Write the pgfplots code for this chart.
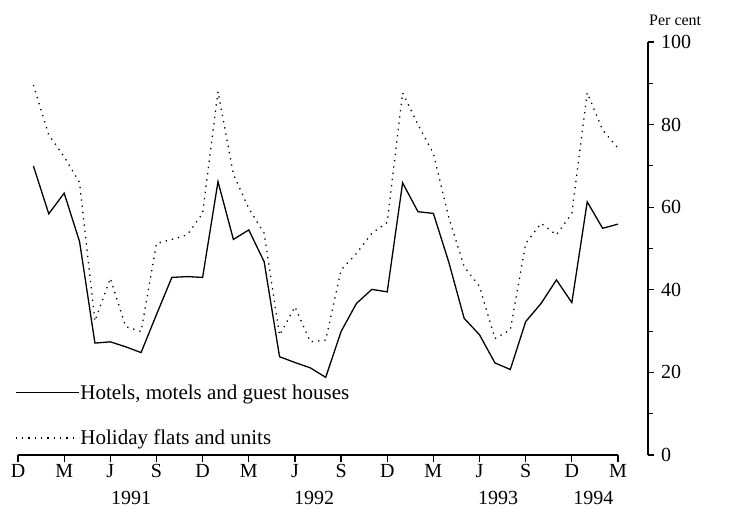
\documentclass[border=0pt]{standalone}
\usepackage{fontspec}
\setmainfont{Liberation Serif}
\usepackage{pgfplots}
\pgfplotsset{compat=1.18}
\begin{document}
\begin{tikzpicture}[font=\fontsize{20}{24}\selectfont]
\useasboundingbox (-18pt,-57pt) rectangle (713pt,455pt);
\begin{axis}[
  at={(0pt,0pt)}, anchor=south west,
  scale only axis, width=600pt, height=413pt,
  xmin=0, xmax=39, ymin=0, ymax=100,
  axis x line*=bottom, axis y line=none,
  xtick={0,3,...,39},
  xticklabels={D,M,J,S,D,M,J,S,D,M,J,S,D,M},
  tick align=outside, major tick length=7pt,
  x axis line style={line width=1.2pt},
  xtick style={line width=1.2pt, black},
  xticklabel style={inner sep=1pt, yshift=-1pt},
  clip=false,
  legend style={at={(axis description cs:-0.005,0.096)}, anchor=west, draw=none, fill=none,
    inner sep=0pt, row sep=27pt, font=\fontsize{21}{24}\selectfont,
    nodes={inner sep=1pt}},
  legend cell align=left,
  legend image code/.code={\draw[#1] (0pt,0pt) -- (63pt,0pt);},
]
\addplot[black, line width=1.3pt] coordinates {
(1,70) (2,58.4) (3,63.4) (4,51.7) (5,27.1) (6,27.4) (7,26.2) (8,24.8) (9,34) (10,43)
(11,43.2) (12,43) (13,66.2) (14,52.2) (15,54.5) (16,46.8) (17,23.8) (18,22.4) (19,21.1) (20,18.8)
(21,29.9) (22,36.7) (23,40.1) (24,39.5) (25,65.9) (26,58.9) (27,58.5) (28,46.7) (29,33.1) (30,29.1)
(31,22.3) (32,20.7) (33,32.3) (34,36.7) (35,42.4) (36,36.9) (37,61.3) (38,54.9) (39,55.9)
};
\addlegendentry{Hotels, motels and guest houses}
\addplot[black, line width=1.3pt, dash pattern=on 1.3pt off 5pt] coordinates {
(1,89.6) (2,77.5) (3,72.2) (4,66) (5,32.4) (6,42.8) (7,31.1) (8,29.9) (9,51.2) (10,52.2)
(11,53.3) (12,58.5) (13,88) (14,68) (15,59.7) (16,53.7) (17,29) (18,35.9) (19,27.4) (20,27.8)
(21,44.8) (22,48.8) (23,53.7) (24,56.3) (25,87.7) (26,80) (27,73) (28,57.5) (29,45.6) (30,40.8)
(31,28.2) (32,30.3) (33,51.2) (34,56.1) (35,53.3) (36,58.5) (37,87.7) (38,78.7) (39,74.3)
};
\addlegendentry{Holiday flats and units}
\node[anchor=base] at (axis cs:7.35,0) [yshift=-49pt] {1991};
\node[anchor=base] at (axis cs:19.25,0) [yshift=-49pt] {1992};
\node[anchor=base] at (axis cs:31.2,0) [yshift=-49pt] {1993};
\node[anchor=base] at (axis cs:37.4,0) [yshift=-49pt] {1994};
\end{axis}
\begin{axis}[
  at={(629pt,0pt)}, anchor=south west,
  scale only axis, width=1pt, height=413pt,
  xmin=0, xmax=1, ymin=0, ymax=100,
  axis x line=none, axis y line*=right,
  ytick={0,20,...,100}, minor ytick={10,30,...,90},
  tick align=outside, major tick length=6pt, minor tick length=5pt,
  y axis line style={line width=1.2pt},
  ytick style={line width=1.2pt, black},
  minor tick style={line width=1pt, black},
  yticklabel style={inner sep=1pt, xshift=6pt},
  /pgf/number format/assume math mode=true,
  clip=false,
]
\node[anchor=base west, font=\fontsize{16}{18}\selectfont, inner sep=0pt] at (rel axis cs:1,1) [xshift=1pt, yshift=16pt] {Per cent};
\end{axis}
\end{tikzpicture}
\end{document}
